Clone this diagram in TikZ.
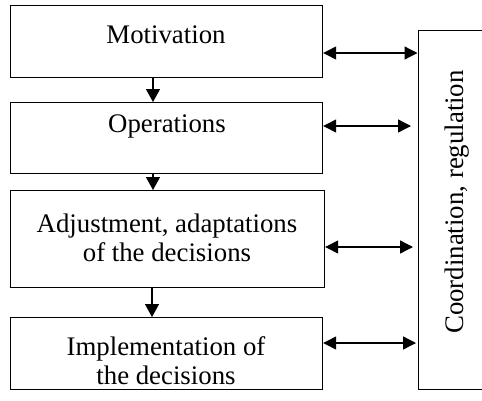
\documentclass[tikz,border=0pt]{standalone}
\usepackage{fontspec}
\setmainfont{Liberation Serif}
\usetikzlibrary{arrows.meta}
\begin{document}
\begin{tikzpicture}[x=1pt,y=-1pt,
  box/.style={draw,line width=1.2pt,rectangle,inner sep=0pt,anchor=north west},
  txt/.style={inner sep=0pt,font=\fontsize{26.8}{29}\selectfont,align=center},
  link/.style={line width=1.3pt,{Triangle[length=13pt,width=13pt]}-{Triangle[length=13pt,width=13pt]}},
  flow/.style={line width=1.3pt,-{Triangle[length=13pt,width=14pt]}}]
\path[use as bounding box,clip] (0,0) rectangle (482,400);
\fill[white] (0,0) rectangle (482,400);
% boxes
\node[box,minimum width=312pt,minimum height=72pt] (b1) at (10,5) {};
\node[box,minimum width=312pt,minimum height=71pt] (b2) at (10,102) {};
\node[box,minimum width=314pt,minimum height=97pt] (b3) at (10,190) {};
\node[box,minimum width=312pt,minimum height=72pt] (b4) at (10,317) {};
\node[box,minimum width=80pt,minimum height=359pt] (br) at (418,30) {};
% texts
\node[txt,anchor=base] (t1) at (166,43) {Motivation};
\node[txt,anchor=base] (t2) at (167,132.5) {Operations};
\node[txt,anchor=north] (t3) at (167,214) {Adjustment, adaptations\\of the decisions};
\node[txt,anchor=north] (t4) at (166,336) {Implementation of\\the decisions};
\node[txt,anchor=base,rotate=90] (tr) at (463,202) {Coordination, regulation};
% vertical flow arrows
\coordinate (v1) at (153,0);
\coordinate (v3) at (152,0);
\draw[flow] (b1.south -| v1) -- (b2.north -| v1);
\draw[flow] (b2.south -| v1) -- (b3.north -| v1);
\draw[flow] (b3.south -| v3) -- (b4.north -| v3);
% horizontal links
\coordinate (r1) at (417.5,53);
\coordinate (r2) at (411,126);
\coordinate (r3) at (413,247);
\coordinate (r4) at (416,343);
\draw[link] (b1.east |- r1) -- (r1);
\draw[link] (b2.east |- r2) -- (r2);
\draw[link] (b3.east |- r3) -- (r3);
\draw[link] (b4.east |- r4) -- (r4);
\end{tikzpicture}
\end{document}
